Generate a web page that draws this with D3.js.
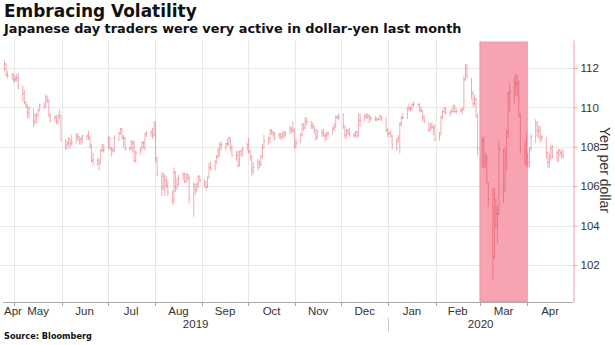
<!DOCTYPE html>
<html>
<head>
<meta charset="utf-8">
<script src="https://cdn.jsdelivr.net/npm/d3@7"></script>
<style>
  body { margin: 0; background: #fff; }
  text { font-family: "Liberation Sans", Arial, sans-serif; }
  .head { font-family: "DejaVu Sans", sans-serif; font-weight: bold; }
</style>
</head>
<body>
<svg id="chart" width="615" height="345"></svg>
<script>
// USD/JPY daily bars, weekdays from 2019-04-24 (one row per week)
const firstDay = '2019-04-24';

const highs = [
  112.40, 112.25, 111.85,
  111.75, 111.70, 111.60, 111.70, 111.70,
  111.10, 110.90, 110.30, 110.15, 110.05,
  109.95, 109.70, 109.70, 109.90, 110.20,
  110.25, 110.65, 110.60, 110.40, 109.70,
  109.60, 109.60, 109.60, 109.90, 109.60,
  108.40, 108.30, 108.50, 108.40, 108.60,
  108.70, 108.70, 108.55, 108.50, 108.60,
  108.60, 108.80, 108.55, 108.10, 107.70,
  107.45, 107.40, 107.90, 108.15, 108.15,
  108.55, 108.50, 108.00, 107.95, 108.60,
  108.75, 108.95, 108.95, 108.60, 108.50,
  108.00, 108.35, 108.30, 108.30, 107.80,
  108.00, 108.25, 108.30, 108.70, 108.80,
  108.80, 108.95, 109.30, 109.30, 107.50,
  106.70, 106.70, 106.60, 106.50, 106.30,
  105.80, 106.95, 106.75, 106.40, 106.60,
  106.70, 106.70, 106.65, 106.65, 106.60,
  106.20, 106.10, 106.20, 106.55, 106.55,
  106.35, 106.25, 106.50, 107.20, 107.25,
  107.35, 107.60, 107.95, 108.25, 108.25,
  108.20, 108.40, 108.50, 108.45, 108.10,
  107.80, 107.80, 107.80, 107.85, 108.00,
  108.20, 108.45, 107.85, 107.60, 107.20,
  107.40, 107.30, 107.60, 108.15, 108.60,
  108.50, 108.90, 108.90, 108.80, 108.75,
  108.70, 108.70, 108.75, 108.80, 108.80,
  109.05, 109.00, 109.30, 108.95, 108.40,
  108.70, 109.20, 109.20, 109.50, 109.50,
  109.30, 109.25, 109.05, 108.90, 108.85,
  108.90, 108.90, 108.70, 108.75, 108.80,
  109.00, 109.20, 109.60, 109.60, 109.70,
  109.70, 109.10, 108.90, 108.90, 108.95,
  108.70, 108.80, 108.80, 109.70, 109.70,
  109.65, 109.70, 109.70, 109.65, 109.55,
  109.55, 109.50, 109.45, 109.65, 109.55,
  109.50, 108.95, 108.75, 108.85, 108.60,
  108.45, 108.60, 109.25, 109.55, 109.70,
  110.00, 110.20, 110.05, 110.20, 110.30,
  110.20, 110.20, 110.05, 109.85, 109.60,
  109.25, 109.20, 109.25, 109.10, 109.15,
  108.75, 109.60, 109.85, 110.00, 110.00,
  109.85, 109.95, 110.15, 110.10, 109.95,
  109.95, 110.00, 111.60, 112.20, 112.20,
  111.50, 110.85, 110.65, 110.50, 109.70,
  108.50, 108.50, 107.70, 107.60, 106.20,
  105.90, 105.90, 105.40, 105.00, 108.30,
  107.90, 108.00, 108.90, 110.80, 111.20,
  111.55, 111.70, 111.65, 111.35, 109.70,
  108.30, 108.70, 107.70, 108.00, 108.70,
  109.40, 109.30, 109.10, 109.05, 108.60,
  108.50, 107.75, 107.70, 108.10, 108.10,
  107.80, 107.90, 107.90, 107.80, 107.90
];

const lows = [
  111.85, 111.60, 111.45,
  111.40, 111.25, 111.30, 111.30, 110.90,
  110.30, 110.15, 109.95, 109.45, 109.45,
  109.00, 109.10, 109.20, 109.50, 109.80,
  109.90, 110.00, 110.20, 109.50, 109.25,
  109.30, 109.15, 109.10, 109.40, 108.30,
  107.85, 107.85, 108.00, 107.90, 108.05,
  108.15, 108.30, 108.10, 108.10, 108.20,
  108.35, 108.35, 107.90, 107.20, 107.05,
  107.05, 106.80, 107.15, 107.75, 107.70,
  107.90, 107.85, 107.50, 107.70, 107.75,
  108.30, 108.60, 108.35, 108.00, 107.80,
  107.80, 107.85, 107.70, 107.20, 107.20,
  107.60, 107.80, 107.90, 107.80, 108.50,
  108.50, 108.40, 108.50, 107.20, 106.50,
  105.50, 105.80, 105.50, 105.90, 105.50,
  105.05, 105.10, 105.70, 105.80, 106.00,
  106.30, 106.15, 106.15, 106.25, 105.10,
  104.45, 105.55, 105.70, 105.90, 106.20,
  105.95, 105.75, 105.90, 106.40, 106.80,
  106.80, 107.10, 107.40, 107.50, 107.85,
  107.80, 108.00, 108.05, 107.80, 107.50,
  107.30, 106.95, 107.00, 107.50, 107.50,
  107.80, 107.65, 107.30, 106.50, 106.60,
  106.80, 106.90, 107.00, 107.40, 107.90,
  108.10, 108.20, 108.60, 108.50, 108.30,
  108.40, 108.35, 108.40, 108.40, 108.50,
  108.60, 108.70, 108.70, 107.90, 107.90,
  108.20, 108.55, 108.80, 108.90, 109.10,
  108.90, 108.90, 108.65, 108.30, 108.40,
  108.50, 108.50, 108.25, 108.35, 108.50,
  108.60, 108.80, 108.95, 109.40, 109.35,
  108.90, 108.40, 108.45, 108.60, 108.50,
  108.45, 108.50, 108.45, 108.50, 109.00,
  109.30, 109.40, 109.45, 109.20, 109.30,
  109.30, 109.30, 109.35, 109.35, 109.30,
  108.75, 108.50, 108.60, 108.45, 107.85,
  107.80, 108.20, 107.65, 109.05, 109.40,
  109.40, 109.80, 109.80, 109.85, 110.00,
  110.05, 109.75, 109.75, 109.30, 109.20,
  108.75, 108.80, 108.90, 108.60, 108.30,
  108.30, 108.60, 109.40, 109.70, 109.65,
  109.55, 109.70, 109.75, 109.70, 109.70,
  109.75, 109.65, 109.85, 111.35, 111.45,
  110.40, 110.00, 110.05, 109.50, 107.50,
  106.95, 106.90, 106.90, 106.15, 104.95,
  101.20, 102.30, 103.80, 103.10, 104.55,
  105.15, 105.70, 106.80, 108.45, 109.80,
  110.20, 110.60, 110.55, 109.50, 107.65,
  107.10, 107.00, 106.90, 106.95, 107.75,
  108.20, 108.50, 108.40, 108.20, 108.30,
  107.40, 106.95, 106.90, 107.30, 107.40,
  107.25, 107.20, 107.50, 107.40, 107.40
];

const closes = [
  112.20, 111.65, 111.60,
  111.65, 111.40, 111.45, 111.50, 111.10,
  110.70, 110.25, 110.10, 109.75, 109.95,
  109.30, 109.60, 109.60, 109.85, 110.10,
  110.05, 110.50, 110.35, 109.60, 109.30,
  109.50, 109.30, 109.60, 109.60, 108.30,
  108.10, 108.20, 108.40, 108.15, 108.20,
  108.45, 108.50, 108.35, 108.40, 108.55,
  108.55, 108.45, 108.10, 107.30, 107.35,
  107.30, 107.15, 107.80, 107.80, 107.85,
  108.45, 107.90, 107.85, 107.80, 108.45,
  108.70, 108.90, 108.45, 108.45, 107.90,
  107.90, 108.25, 108.20, 107.30, 107.70,
  107.80, 108.20, 108.20, 108.65, 108.70,
  108.80, 108.60, 108.60, 107.40, 106.60,
  105.90, 106.50, 106.30, 106.05, 105.70,
  105.30, 106.70, 105.90, 106.10, 106.40,
  106.60, 106.25, 106.60, 106.40, 105.40,
  106.10, 105.80, 106.10, 106.50, 106.30,
  106.20, 105.95, 106.45, 106.95, 106.90,
  107.25, 107.50, 107.80, 108.10, 108.10,
  108.15, 108.15, 108.45, 107.95, 107.55,
  107.55, 107.05, 107.75, 107.80, 107.90,
  108.10, 107.75, 107.50, 106.85, 106.95,
  107.25, 107.10, 107.50, 107.95, 108.30,
  108.40, 108.85, 108.75, 108.65, 108.45,
  108.60, 108.50, 108.70, 108.60, 108.70,
  108.95, 108.85, 108.80, 108.05, 108.20,
  108.60, 109.15, 108.95, 109.30, 109.25,
  109.05, 109.05, 108.85, 108.45, 108.80,
  108.70, 108.60, 108.55, 108.65, 108.65,
  108.95, 109.05, 109.50, 109.50, 109.50,
  109.00, 108.60, 108.85, 108.75, 108.60,
  108.60, 108.75, 108.55, 109.35, 109.35,
  109.55, 109.50, 109.55, 109.40, 109.45,
  109.40, 109.35, 109.40, 109.55, 109.45,
  108.85, 108.65, 108.70, 108.55, 108.10,
  108.35, 108.45, 109.15, 109.50, 109.45,
  109.95, 109.95, 109.90, 110.15, 110.15,
  110.15, 109.85, 109.85, 109.50, 109.30,
  108.85, 109.00, 109.00, 108.95, 108.35,
  108.60, 109.50, 109.80, 109.95, 109.75,
  109.70, 109.80, 110.10, 109.80, 109.80,
  109.85, 109.90, 111.40, 112.10, 111.60,
  110.70, 110.20, 110.40, 109.50, 107.90,
  108.30, 107.20, 107.50, 106.20, 105.35,
  102.40, 105.60, 104.60, 104.60, 107.90,
  105.80, 107.60, 108.70, 110.70, 110.80,
  111.20, 111.20, 111.20, 109.60, 107.90,
  107.80, 107.50, 107.20, 107.90, 108.50,
  109.20, 108.80, 108.80, 108.50, 108.50,
  107.70, 107.20, 107.50, 107.90, 107.50,
  107.70, 107.80, 107.70, 107.60, 107.50
];

const yTicks = [102, 104, 106, 108, 110, 112];
const yearLabels = ['2019', '2020'];
const shadeFrom = '2020-03-01';
const shadeTo = '2020-04-01';

const title = 'Embracing Volatility';
const subtitle = 'Japanese day traders were very active in dollar-yen last month';
const source = 'Source: Bloomberg';
const yLabel = 'Yen per dollar';

const parse = d3.timeParse('%Y-%m-%d');
const plotLeft = 3, plotRight = 573, plotTop = 40, plotBottom = 302;

// weekday dates for the bars
const days = [];
let day = parse(firstDay);
while (days.length < highs.length) {
  if (day.getDay() !== 0 && day.getDay() !== 6) days.push(day);
  day = d3.timeDay.offset(day, 1);
}
const bars = days.map((dd, i) => ({ day: dd, high: highs[i], low: lows[i], close: closes[i] }));

const x = d3.scaleTime()
  .domain([new Date(2019, 3, 23, 12), new Date(2020, 4, 1)])
  .range([plotLeft, plotRight]);

const y = d3.scaleLinear()
  .domain([100.12, 113.42])
  .range([plotBottom, plotTop]);

const svg = d3.select('#chart');

// grid
svg.append('g')
  .selectAll('line')
  .data(yTicks)
  .join('line')
  .attr('x1', 0)
  .attr('x2', plotRight)
  .attr('y1', v => Math.round(y(v)) + 0.5)
  .attr('y2', v => Math.round(y(v)) + 0.5)
  .attr('stroke', '#e9e9e9');

const monthStarts = d3.timeMonth.range(new Date(2019, 4, 1), new Date(2020, 4, 1));
svg.append('g')
  .selectAll('line')
  .data(monthStarts)
  .join('line')
  .attr('x1', m => Math.round(x(m)) + 0.5)
  .attr('x2', m => Math.round(x(m)) + 0.5)
  .attr('y1', plotTop)
  .attr('y2', plotBottom)
  .attr('stroke', '#e9e9e9');

// March highlight
svg.append('rect')
  .attr('x', x(parse(shadeFrom)))
  .attr('y', plotTop + 2)
  .attr('width', x(parse(shadeTo)) - x(parse(shadeFrom)))
  .attr('height', plotBottom - plotTop - 2)
  .attr('fill', '#f7a3b1')
  .attr('stroke', '#ef8c9c')
  .attr('stroke-width', 0.8);

// OHLC bars (high-low with close tick)
const barG = svg.append('g')
  .attr('stroke', 'rgba(220,40,55,0.38)')
  .attr('stroke-width', 1)
  .attr('fill', 'none');

barG.selectAll('path')
  .data(bars)
  .join('path')
  .attr('d', b => {
    const bx = x(d3.timeHour.offset(b.day, 12));
    return `M${bx},${y(b.high)}V${y(b.low)}M${bx},${y(b.close)}H${bx + 1.2}`;
  });

// right axis
const yAxis = svg.append('g')
  .attr('transform', `translate(${plotRight + 0.5},0)`)
  .call(d3.axisRight(y).tickValues(yTicks).tickSize(4).tickSizeOuter(0).tickPadding(3));
yAxis.select('.domain').attr('stroke', '#f0a0a8');
yAxis.selectAll('.tick line').attr('stroke', '#f0a0a8');
yAxis.selectAll('.tick text')
  .attr('fill', '#333')
  .style('font-size', '11.5px')
  .style('font-family', '"Liberation Sans", Arial, sans-serif');

svg.append('text')
  .attr('transform', `translate(600,${(plotTop + plotBottom) / 2 - 1}) rotate(90)`)
  .attr('text-anchor', 'middle')
  .attr('fill', '#333')
  .style('font-size', '14px')
  .text(yLabel);

// bottom axis
svg.append('line')
  .attr('x1', plotLeft)
  .attr('x2', plotRight)
  .attr('y1', plotBottom + 0.5)
  .attr('y2', plotBottom + 0.5)
  .attr('stroke', '#aaa');

svg.append('g')
  .selectAll('line')
  .data(monthStarts)
  .join('line')
  .attr('x1', m => Math.round(x(m)) + 0.5)
  .attr('x2', m => Math.round(x(m)) + 0.5)
  .attr('y1', plotBottom)
  .attr('y2', plotBottom + 4)
  .attr('stroke', '#aaa');

const monthSpans = d3.timeMonth.range(new Date(2019, 3, 1), new Date(2020, 4, 1))
  .map(m => ({ m, a: Math.max(plotLeft, x(m)), b: Math.min(plotRight, x(d3.timeMonth.offset(m, 1))) }));

svg.append('g')
  .selectAll('text')
  .data(monthSpans)
  .join('text')
  .attr('x', s => s.a === plotLeft ? plotLeft + 1 : (s.a + s.b) / 2)
  .attr('text-anchor', s => s.a === plotLeft ? 'start' : 'middle')
  .attr('y', plotBottom + 13)
  .attr('fill', '#333')
  .style('font-size', '11.5px')
  .text(s => d3.timeFormat('%b')(s.m));

const yearBreak = x(new Date(2020, 0, 1));
svg.append('line')
  .attr('x1', Math.round(yearBreak) + 0.5)
  .attr('x2', Math.round(yearBreak) + 0.5)
  .attr('y1', plotBottom + 16)
  .attr('y2', plotBottom + 30)
  .attr('stroke', '#ccc');

svg.append('g')
  .selectAll('text')
  .data(yearLabels)
  .join('text')
  .attr('x', (t, i) => i === 0 ? (plotLeft + yearBreak) / 2 : (yearBreak + plotRight) / 2)
  .attr('y', plotBottom + 26)
  .attr('text-anchor', 'middle')
  .attr('fill', '#333')
  .style('font-size', '11.5px')
  .text(t => t);

// titles, fitted to the reference widths
function fitText(sel, width) {
  const len = sel.node().getComputedTextLength();
  const size = parseFloat(sel.style('font-size'));
  sel.style('font-size', (size * width / len).toFixed(2) + 'px');
}

const t1 = svg.append('text')
  .attr('class', 'head')
  .attr('x', 4).attr('y', 16.5)
  .attr('fill', '#111')
  .style('font-size', '17px')
  .text(title);
fitText(t1, 193);

const t2 = svg.append('text')
  .attr('class', 'head')
  .attr('x', 4).attr('y', 32.5)
  .attr('fill', '#111')
  .style('font-size', '12px')
  .text(subtitle);
fitText(t2, 458);

const t3 = svg.append('text')
  .attr('class', 'head')
  .attr('x', 4).attr('y', 339)
  .attr('fill', '#111')
  .style('font-size', '9px')
  .text(source);
fitText(t3, 88);
</script>
</body>
</html>
